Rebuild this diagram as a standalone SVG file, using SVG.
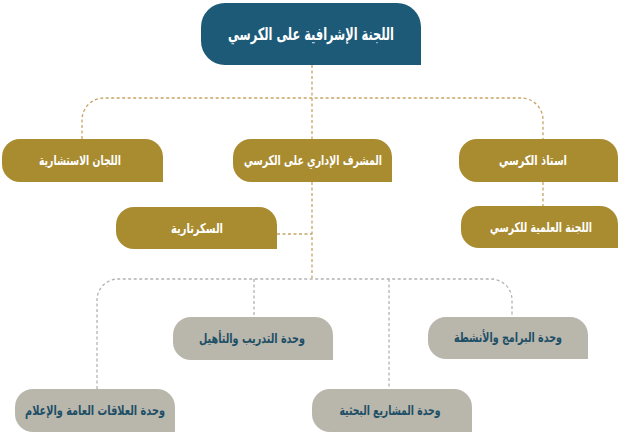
<svg xmlns="http://www.w3.org/2000/svg" width="628" height="434" viewBox="0 0 628 434">
<style>
.top{fill:#1c5a78}
.gold{fill:#a98b30}
.gray{fill:#b9b6ac}
.lt{fill:#ffffff;font-family:"DejaVu Sans",sans-serif;font-weight:bold;font-size:13.5px;text-anchor:middle}
.lg{fill:#1d4f66;font-family:"DejaVu Sans",sans-serif;font-weight:bold;font-size:13.5px;text-anchor:middle}
.ttop{font-size:17px}
.c1{fill:none;stroke:#c6a566;stroke-width:1.3;stroke-dasharray:3 2.5}
.c2{fill:none;stroke:#b3b3b3;stroke-width:1.3;stroke-dasharray:3 2.5}
</style>
<rect width="628" height="434" fill="#ffffff"/>
<g id="connectors">
<path class="c1" d="M312,65 V139"/>
<path class="c1" d="M82,139 V120 A22 22 0 0 1 104,98 H521 A22 22 0 0 1 543,120 V139"/>
<path class="c1" d="M312,182 V278"/>
<path class="c1" d="M277,234 H312"/>
<path class="c1" d="M543,182 V206"/>
<path class="c2" d="M97,389 V300 A21 21 0 0 1 118,279 H491 A21 21 0 0 1 512,300 V317"/>
<path class="c2" d="M254,279 V317"/>
<path class="c2" d="M389,279 V389"/>
</g>
<g id="n-top">
<path class="top" d="M225,3 H397 A24 24 0 0 1 421,27 V65 H225 A24 24 0 0 1 201,41 V27 A24 24 0 0 1 225,3Z"/>
<text class="lt ttop" x="311" y="40" textLength="166" lengthAdjust="spacingAndGlyphs">اللجنة الإشرافية على الكرسي</text>
</g>
<g id="n-advisory">
<path class="gold" d="M20,139 H145 A18 18 0 0 1 163,157 V182 H20 A18 18 0 0 1 2,164 V157 A18 18 0 0 1 20,139Z"/>
<text class="lt" x="80" y="165" textLength="82" lengthAdjust="spacingAndGlyphs">اللجان الاستشارية</text>
</g>
<g id="n-supervisor">
<path class="gold" d="M251,139 H374 A18 18 0 0 1 392,157 V182 H251 A18 18 0 0 1 233,164 V157 A18 18 0 0 1 251,139Z"/>
<text class="lt" x="313" y="165" textLength="138" lengthAdjust="spacingAndGlyphs">المشرف الإداري على الكرسي</text>
</g>
<g id="n-professor">
<path class="gold" d="M477,139 H600 A18 18 0 0 1 618,157 V182 H477 A18 18 0 0 1 459,164 V157 A18 18 0 0 1 477,139Z"/>
<text class="lt" x="533" y="165" textLength="68" lengthAdjust="spacingAndGlyphs">استاذ الكرسي</text>
</g>
<g id="n-scientific">
<path class="gold" d="M479,206 H600 A18 18 0 0 1 618,224 V248 H479 A18 18 0 0 1 461,230 V224 A18 18 0 0 1 479,206Z"/>
<text class="lt" x="541" y="232" textLength="102" lengthAdjust="spacingAndGlyphs">اللجنة العلمية للكرسي</text>
</g>
<g id="n-secretariat">
<path class="gold" d="M134,207 H259 A18 18 0 0 1 277,225 V249 H134 A18 18 0 0 1 116,231 V225 A18 18 0 0 1 134,207Z"/>
<text class="lt" x="197" y="233" textLength="52" lengthAdjust="spacingAndGlyphs">السكرتارية</text>
</g>
<g id="n-training">
<path class="gray" d="M191,317 H315 A18 18 0 0 1 333,335 V360 H191 A18 18 0 0 1 173,342 V335 A18 18 0 0 1 191,317Z"/>
<text class="lg" x="252" y="343" textLength="106" lengthAdjust="spacingAndGlyphs">وحدة التدريب والتأهيل</text>
</g>
<g id="n-programs">
<path class="gray" d="M446,317 H570 A18 18 0 0 1 588,335 V359 H446 A18 18 0 0 1 428,341 V335 A18 18 0 0 1 446,317Z"/>
<text class="lg" x="508" y="342" textLength="108" lengthAdjust="spacingAndGlyphs">وحدة البرامج والأنشطة</text>
</g>
<g id="n-relations">
<path class="gray" d="M33,389 H157 A18 18 0 0 1 175,407 V432 H33 A18 18 0 0 1 15,414 V407 A18 18 0 0 1 33,389Z"/>
<text class="lg" x="95" y="415" textLength="140" lengthAdjust="spacingAndGlyphs">وحدة العلاقات العامة والإعلام</text>
</g>
<g id="n-research">
<path class="gray" d="M330,389 H454 A18 18 0 0 1 472,407 V432 H330 A18 18 0 0 1 312,414 V407 A18 18 0 0 1 330,389Z"/>
<text class="lg" x="390" y="415" textLength="101" lengthAdjust="spacingAndGlyphs">وحدة المشاريع البحثية</text>
</g>
</svg>
